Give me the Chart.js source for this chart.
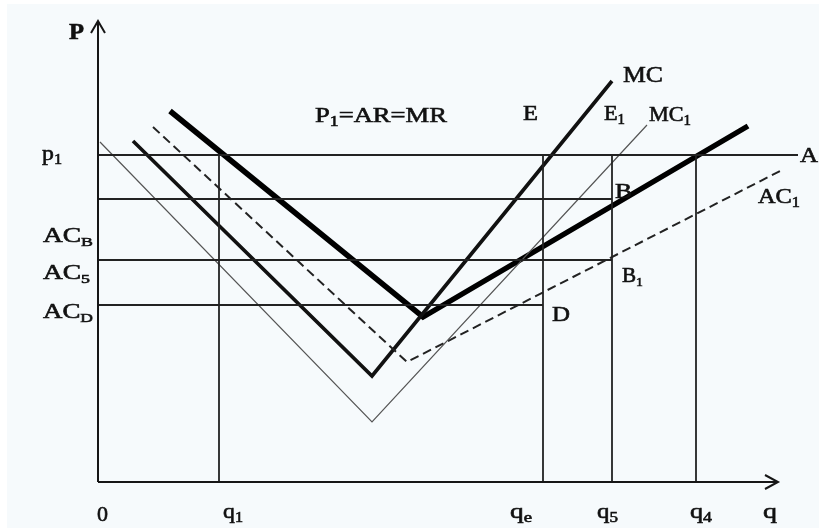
<!DOCTYPE html>
<html><head><meta charset="utf-8">
<script src="https://cdn.jsdelivr.net/npm/chart.js@4"></script>
<style>html,body{margin:0;padding:0;background:#fff;}canvas{display:block}</style>
</head><body>
<canvas id="c" width="819" height="528"></canvas>
<script>
// ---- data (arbitrary quantity / price units) ----
const priceLevels   = [327, 283, 222, 177];          // p1, AC_B, AC_5, AC_D
const priceLabels   = ['p_1', 'AC_B', 'AC_5', 'AC_D'];
const priceLineEnds = [700, 514, 514, 445];          // where each price line stops (q)
const quantities    = [121, 445, 514, 598];          // q1, qe, q5, q4
const quantityLabels= ['q_1', 'q_e', 'q_5', 'q_4'];
const mc1X = [2, 274, 549],  mc1Y = [340, 60, 357];  // MC1 (thin)
const mcX  = [35, 274, 514], mcY  = [341, 106, 401]; // MC
const ac1X = [55, 309, 684], ac1Y = [355, 120, 312]; // AC1 (dashed)
const acX  = [72, 325, 650], acY  = [371, 165, 356]; // AC (thick)
const axisMaxX = 680, axisMaxY = 461;

const pts = (xs, ys) => xs.map((x, i) => ({x, y: ys[i]}));
const INK = '#161616';
const ds = [];
function line(data, color, width, dash) {
  ds.push({data, borderColor: color, borderWidth: width, borderDash: dash || [],
    showLine: true, pointRadius: 0, pointHoverRadius: 0, fill: false, clip: false,
    borderJoinStyle: 'miter', borderCapStyle: 'butt', tension: 0});
}
// axes
line([{x:0,y:0},{x:0,y:axisMaxY}], INK, 2);
line([{x:-7,y:axisMaxY-12},{x:0,y:axisMaxY},{x:7,y:axisMaxY-12}], INK, 2);
line([{x:0,y:0},{x:axisMaxX,y:0}], INK, 2);
line([{x:axisMaxX-13,y:7},{x:axisMaxX,y:0},{x:axisMaxX-13,y:-7}], INK, 2);
// price lines
priceLevels.forEach((p, i) => line([{x:0,y:p},{x:priceLineEnds[i],y:p}], '#222', 1.8));
// quantity lines
quantities.forEach(q => line([{x:q,y:0},{x:q,y:priceLevels[0]}], '#222', 1.8));
// curves
line(pts(mc1X, mc1Y), '#555', 1.2);
line(pts(ac1X, ac1Y), '#222', 2, [9, 5]);
line(pts(mcX, mcY), '#111', 3.6);
line(pts(acX, acY), '#000', 5.5);

function drawLabel(ctx, str, x, base, size, targetW, bold) {
  const parts = [];
  const re = /_(.)/g; let last = 0, m;
  while ((m = re.exec(str))) { if (m.index > last) parts.push([str.slice(last, m.index), false]); parts.push([m[1], true]); last = m.index + 2; }
  if (last < str.length) parts.push([str.slice(last), false]);
  const f = (s, sub) => (bold ? 'bold ' : '') + (sub ? Math.round(s * 0.66) : s) + 'px "Liberation Serif", "DejaVu Serif", serif';
  let w = 0;
  parts.forEach(([t, sub]) => { ctx.font = f(size, sub); w += ctx.measureText(t).width; });
  const sx = targetW ? targetW / w : 1;
  ctx.save(); ctx.translate(x, base); ctx.scale(sx, 1);
  ctx.fillStyle = '#111'; ctx.strokeStyle = '#111'; ctx.lineWidth = 0.6;
  ctx.textBaseline = 'alphabetic'; ctx.textAlign = 'left';
  let cx = 0;
  parts.forEach(([t, sub]) => { ctx.font = f(size, sub); const yy = sub ? size * 0.2 : 0;
    ctx.fillText(t, cx, yy); ctx.strokeText(t, cx, yy); cx += ctx.measureText(t).width; });
  ctx.restore();
}

const bgPlugin = { id: 'bg', beforeDraw(c) { const ctx = c.ctx; ctx.save();
  ctx.fillStyle = '#ffffff'; ctx.fillRect(0, 0, c.width, c.height);
  ctx.fillStyle = '#f6fafc'; ctx.fillRect(7, 4, c.width - 7, c.height - 4); ctx.restore(); } };

const labelPlugin = { id: 'labels', afterDraw(c) {
  const ctx = c.ctx, X = c.scales.x, Y = c.scales.y;
  const px = v => X.getPixelForValue(v), py = v => Y.getPixelForValue(v);
  // axis titles
  drawLabel(ctx, 'P', 69, 39, 24, 15, true);
  drawLabel(ctx, 'q', 763, 518, 22, 14);
  drawLabel(ctx, '0', 97, 521, 22, 11);
  // price tick labels
  const left = [{x:42,y:160,s:22,w:20},{x:43,y:242,s:20,w:50},{x:43,y:279,s:20,w:47},{x:43,y:318,s:20,w:50}];
  priceLabels.forEach((t, i) => drawLabel(ctx, t, left[i].x, left[i].y, left[i].s, left[i].w));
  // quantity tick labels
  const bot = [{dx:4,w:20},{dx:-33,w:22},{dx:-15,w:21},{dx:-6,w:22}];
  quantityLabels.forEach((t, i) => drawLabel(ctx, t, px(quantities[i]) + bot[i].dx, 518, 22, bot[i].w));
  // curve labels
  drawLabel(ctx, 'MC', px(mcX[2]) + 11, py(mcY[2]) + 1, 24, 40);
  drawLabel(ctx, 'MC_1', px(mc1X[2]) + 2, 121, 21, 42);
  drawLabel(ctx, 'E', px(quantities[1]) - 20, 120, 21, 15);
  drawLabel(ctx, 'E_1', px(quantities[2]) - 8, 120, 21, 21);
  drawLabel(ctx, 'P_1=AR=MR', 315, 122, 21, 132);
  drawLabel(ctx, 'A', px(priceLineEnds[0]) + 2, 162, 22, 18);
  drawLabel(ctx, 'B', px(quantities[2]) + 3, 198, 20, 17);
  drawLabel(ctx, 'AC_1', 758, 203, 21, 42);
  drawLabel(ctx, 'B_1', px(quantities[2]) + 10, 282, 20, 21);
  drawLabel(ctx, 'D', px(quantities[1]) + 9, 321, 21, 18);
} };

new Chart(document.getElementById('c'), {
  type: 'scatter',
  data: { datasets: ds },
  options: {
    responsive: false, animation: false, devicePixelRatio: 1,
    layout: { padding: { left: 98, right: 1, top: 0, bottom: 46 } },
    scales: {
      x: { type: 'linear', min: 0, max: 720, display: false },
      y: { type: 'linear', min: 0, max: 482, display: false }
    },
    plugins: { legend: { display: false }, tooltip: { enabled: false } },
    events: []
  },
  plugins: [bgPlugin, labelPlugin]
});
</script>
</body></html>
